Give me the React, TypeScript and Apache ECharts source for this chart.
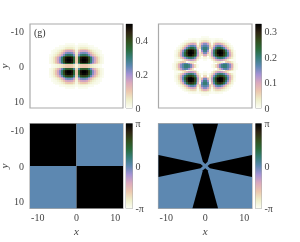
import React, { useEffect, useRef } from "react";
import * as echarts from "echarts";

const PI = Math.PI;
const colorStops = ["#fbfdf4", "#eeeec9", "#ecc7ae", "#dba9bd", "#a492d4", "#5d88b1", "#377e78", "#2a6a3a", "#324d1d", "#2e2413", "#000000"];
const spatialTicks = [-10, 0, 10];
const ampTicksA = [0, 0.2, 0.4];
const ampTicksB = [0, 0.1, 0.2, 0.3];
const phaseTicks = [-PI, 0, PI];
const ampMaxA = 0.5;
const ampMaxB = 0.33;

// |psi| read per quadrant, in percent of the colour range, x and y = 0.25, 0.75, ...
const ampQuadrantA = [
  [4, 14, 19, 20, 20, 19, 16, 12, 9, 6, 4, 2, 1, 0],
  [15, 54, 72, 75, 75, 73, 62, 47, 33, 24, 16, 9, 4, 2],
  [20, 71, 94, 98, 98, 95, 80, 61, 43, 31, 21, 12, 5, 2],
  [20, 72, 96, 100, 100, 97, 82, 62, 44, 32, 21, 12, 5, 2],
  [20, 71, 94, 98, 98, 95, 80, 61, 43, 31, 21, 12, 5, 2],
  [17, 60, 81, 84, 84, 81, 66, 48, 34, 24, 16, 9, 4, 1],
  [13, 46, 61, 64, 64, 60, 46, 33, 23, 16, 10, 6, 2, 1],
  [9, 34, 45, 47, 47, 44, 33, 23, 15, 10, 6, 3, 1, 0],
  [6, 23, 31, 32, 32, 30, 21, 14, 9, 6, 3, 2, 1, 0],
  [4, 14, 19, 20, 20, 18, 12, 8, 5, 3, 2, 1, 0, 0],
  [2, 7, 10, 10, 10, 9, 5, 3, 2, 1, 1, 0, 0, 0],
  [1, 3, 4, 4, 4, 3, 2, 1, 1, 0, 0, 0, 0, 0],
  [0, 1, 1, 1, 1, 1, 0, 0, 0, 0, 0, 0, 0, 0],
];
const ampQuadrantB = [
  [0, 0, 0, 1, 5, 15, 30, 46, 57, 61, 60, 52, 44, 28, 13, 4, 1],
  [0, 0, 0, 0, 1, 0, 12, 26, 40, 50, 52, 46, 34, 21, 10, 3, 1],
  [0, 0, 0, 0, 5, 10, 12, 11, 6, 1, 16, 20, 17, 10, 5, 2, 0],
  [1, 0, 0, 5, 14, 26, 33, 36, 33, 26, 18, 10, 2, 1, 1, 1, 0],
  [5, 1, 5, 14, 30, 46, 58, 62, 60, 52, 41, 29, 17, 9, 3, 1, 0],
  [15, 0, 10, 26, 46, 64, 78, 84, 82, 72, 60, 45, 28, 15, 6, 2, 0],
  [30, 12, 12, 33, 58, 78, 92, 98, 96, 85, 69, 50, 32, 16, 6, 2, 0],
  [46, 26, 11, 36, 62, 84, 98, 100, 99, 89, 70, 50, 30, 15, 5, 1, 0],
  [57, 40, 6, 33, 60, 82, 96, 99, 97, 85, 63, 43, 24, 10, 4, 1, 0],
  [61, 50, 1, 26, 52, 72, 85, 89, 85, 68, 50, 31, 16, 7, 2, 0, 0],
  [60, 52, 16, 18, 41, 60, 69, 70, 63, 50, 34, 19, 9, 3, 1, 0, 0],
  [52, 46, 20, 10, 29, 45, 50, 50, 43, 31, 19, 10, 4, 1, 0, 0, 0],
  [44, 34, 17, 2, 17, 28, 32, 30, 24, 16, 9, 4, 1, 0, 0, 0, 0],
  [28, 21, 10, 1, 9, 15, 16, 15, 10, 7, 3, 1, 0, 0, 0, 0, 0],
  [13, 10, 5, 1, 3, 6, 6, 5, 4, 2, 1, 0, 0, 0, 0, 0, 0],
  [4, 3, 2, 1, 1, 2, 2, 1, 1, 0, 0, 0, 0, 0, 0, 0, 0],
  [1, 1, 0, 0, 0, 0, 0, 0, 0, 0, 0, 0, 0, 0, 0, 0, 0],
];

// phase regions: x0, x1, y0, y1, phase
const phaseRegionsA = [
  [-12, 0, -12, 0, PI],
  [0, 12, -12, 0, 0],
  [-12, 0, 0, 12, 0],
  [0, 12, 0, 12, PI],
];
const phaseBackgroundB = [[-12, 12, -12, 12, 0]];
// phase-pi wedges of the right map
const phaseWedgesB = [
  [[-3.3, -12], [3.3, -12], [0.6, -1.2], [0, -0.6], [-0.6, -1.2]],
  [[-3.3, 12], [3.3, 12], [0.6, 1.2], [0, 0.6], [-0.6, 1.2]],
  [[-12, -3.1], [-12, 3.1], [-1.2, 0.6], [-0.6, 0], [-1.2, -0.6]],
  [[12, -3.1], [12, 3.1], [1.2, 0.6], [0.6, 0], [1.2, -0.6]],
];

const GREY = "#aaaaaa";
const TEXT = "#444444";
const FONT = "'Liberation Serif', serif";

const mirror = (rows: number[][], max: number) => {
  const out: number[][] = [];
  rows.forEach((row, j) =>
    row.forEach((v, i) => {
      if (!v) return;
      for (const sx of [-1, 1]) for (const sy of [-1, 1]) out.push([sx * (0.25 + 0.5 * i), sy * (0.25 + 0.5 * j), (v / 100) * max]);
    })
  );
  return out;
};

const cellRender = (_p: any, api: any) => {
  const x = api.value(0), y = api.value(1);
  const a = api.coord([x - 0.25, y - 0.25]);
  const b = api.coord([x + 0.25, y + 0.25]);
  const x0 = Math.round(a[0]), x1 = Math.round(b[0]), y0 = Math.round(a[1]), y1 = Math.round(b[1]);
  return { type: "rect", shape: { x: x0, y: y0, width: x1 - x0, height: y1 - y0 }, style: { fill: api.visual("color") } };
};

const regionRender = (_p: any, api: any) => {
  const a = api.coord([api.value(0), api.value(2)]);
  const b = api.coord([api.value(1), api.value(3)]);
  return { type: "rect", shape: { x: a[0], y: a[1], width: b[0] - a[0], height: b[1] - a[1] }, style: { fill: api.visual("color") } };
};

const wedgeRender = (p: any, api: any) => ({
  type: "polygon",
  shape: { points: phaseWedgesB[p.dataIndex].map((q) => api.coord(q)) },
  style: { fill: api.visual("color") },
});

const barRender = (min: number, max: number) => (_p: any, api: any) => {
  const a = api.coord([0, max]);
  const b = api.coord([1, min]);
  return {
    type: "rect",
    shape: { x: a[0], y: a[1], width: b[0] - a[0], height: b[1] - a[1] },
    style: {
      fill: new echarts.graphic.LinearGradient(0, 1, 0, 0, colorStops.map((color, i) => ({ offset: i / (colorStops.length - 1), color }))),
    },
  };
};

const panels = [
  { left: 30, top: 24, width: 93, height: 84, barLeft: 126, barWidth: 6.5, xLabels: false, yLabels: true },
  { left: 158.5, top: 24, width: 93.5, height: 84, barLeft: 255.5, barWidth: 6, xLabels: false, yLabels: false },
  { left: 30, top: 123.5, width: 93, height: 85, barLeft: 126, barWidth: 6.5, xLabels: true, yLabels: true },
  { left: 158.5, top: 123.5, width: 93.5, height: 85, barLeft: 255.5, barWidth: 6, xLabels: true, yLabels: false },
];
const ranges = [
  { min: 0, max: ampMaxA, ticks: ampTicksA, fmt: (v: number) => String(v) },
  { min: 0, max: ampMaxB, ticks: ampTicksB, fmt: (v: number) => String(v) },
  { min: -PI, max: PI, ticks: phaseTicks, fmt: (v: number) => (v > 0 ? "π" : v < 0 ? "-π" : "0") },
  { min: -PI, max: PI, ticks: phaseTicks, fmt: (v: number) => (v > 0 ? "π" : v < 0 ? "-π" : "0") },
];

const textStyle = { color: TEXT, fontFamily: FONT, fontSize: 10 };

function buildOption() {
  const grid: any[] = [];
  const xAxis: any[] = [];
  const yAxis: any[] = [];
  panels.forEach((p, i) => {
    grid.push({ left: p.left, top: p.top, width: p.width, height: p.height, show: true, borderColor: GREY, borderWidth: 1.2, backgroundColor: "#fff", outerBoundsMode: "none" });
    xAxis.push({
      type: "value", gridIndex: i * 2, min: -12, max: 12, splitLine: { show: false }, axisLine: { show: false }, axisTick: { show: false },
      axisLabel: { show: p.xLabels, customValues: spatialTicks, margin: 4, ...textStyle, formatter: (v: number) => String(v) },
      name: p.xLabels ? "x" : "", nameLocation: "middle", nameGap: 17, nameMoveOverlap: false,
      nameTextStyle: { ...textStyle, fontStyle: "italic", fontSize: 11, verticalAlign: "top" },
    });
    yAxis.push({
      type: "value", gridIndex: i * 2, inverse: true, min: -12, max: 12, splitLine: { show: false }, axisLine: { show: false }, axisTick: { show: false },
      axisLabel: { show: p.yLabels, customValues: spatialTicks, margin: 6, ...textStyle, formatter: (v: number) => String(v) },
      name: p.yLabels ? "y" : "", nameLocation: "middle", nameGap: 21, nameMoveOverlap: false,
      nameTextStyle: { ...textStyle, fontStyle: "italic", fontSize: 11 },
    });
    const r = ranges[i];
    grid.push({ left: p.barLeft, top: p.top, width: p.barWidth, height: p.height, show: true, borderColor: GREY, borderWidth: 1, outerBoundsMode: "none" });
    xAxis.push({ type: "value", gridIndex: i * 2 + 1, min: 0, max: 1, show: false });
    yAxis.push({
      type: "value", gridIndex: i * 2 + 1, position: "right", min: r.min, max: r.max, splitLine: { show: false }, axisLine: { show: false },
      axisTick: { show: false },
      axisLabel: { customValues: r.ticks, margin: 3, ...textStyle, formatter: r.fmt },
    });
  });

  const cell = (gi: number, data: number[][], renderItem: any) => ({
    type: "custom", xAxisIndex: gi, yAxisIndex: gi, data, renderItem, clip: true, silent: true, encode: { x: 0, y: 1 },
  });
  const bar = (gi: number, r: any) => ({
    type: "custom", xAxisIndex: gi, yAxisIndex: gi, data: [[0, r.min]], renderItem: barRender(r.min, r.max), silent: true, encode: { x: 0, y: 1 },
  });

  const series: any[] = [
    cell(0, mirror(ampQuadrantA, ampMaxA), cellRender),
    cell(2, mirror(ampQuadrantB, ampMaxB), cellRender),
    cell(4, phaseRegionsA, regionRender),
    cell(6, phaseBackgroundB, regionRender),
    cell(6, phaseWedgesB.map((w) => [w[0][0], w[0][1], PI]), wedgeRender),
    bar(1, ranges[0]), bar(3, ranges[1]), bar(5, ranges[2]), bar(7, ranges[3]),
  ];

  const vm = (seriesIndex: number, min: number, max: number, dimension: number) => ({
    type: "continuous", show: false, seriesIndex, min, max, dimension, inRange: { color: colorStops },
  });

  return {
    animation: false,
    backgroundColor: "#fff",
    grid, xAxis, yAxis, series,
    visualMap: [vm(0, 0, ampMaxA, 2), vm(1, 0, ampMaxB, 2), vm(2, -PI, PI, 4), vm(3, -PI, PI, 4), vm(4, -PI, PI, 2)],
    graphic: [{ type: "text", x: 34, y: 27, style: { text: "(g)", fill: "#333", fontFamily: FONT, fontSize: 10 }, z: 10 }],
  };
}

export default function App() {
  const ref = useRef<HTMLDivElement>(null);
  useEffect(() => {
    const chart = echarts.init(ref.current!, undefined, { renderer: "svg" });
    chart.setOption(buildOption() as any);
    return () => chart.dispose();
  }, []);
  return <div ref={ref} style={{ position: "absolute", left: 0, top: 0, width: 300, height: 242, filter: "blur(0.45px)" }} />;
}
